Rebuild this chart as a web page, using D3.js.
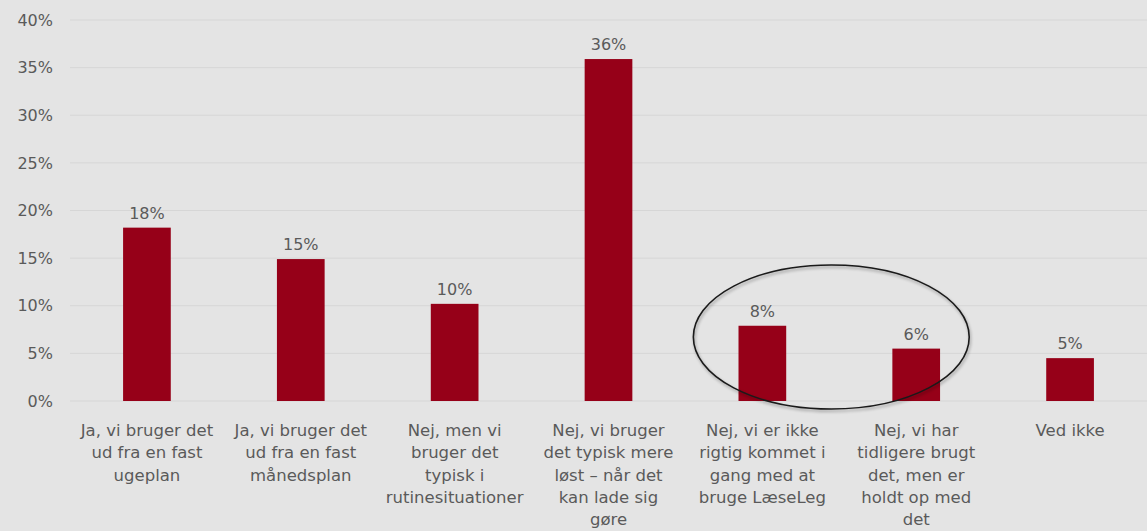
<!DOCTYPE html>
<html>
<head>
<meta charset="utf-8">
<script src="https://cdn.jsdelivr.net/npm/d3@7"></script>
<style>
  html, body { margin: 0; padding: 0; background: #e4e4e4; }
  svg { display: block; }
</style>
</head>
<body>
<svg id="chart" width="1147" height="531"></svg>
<script>
// Survey answers (each line of a category label is one entry)
const categories = [
  ["Ja, vi bruger det", "ud fra en fast", "ugeplan"],
  ["Ja, vi bruger det", "ud fra en fast", "månedsplan"],
  ["Nej, men vi", "bruger det", "typisk i", "rutinesituationer"],
  ["Nej, vi bruger", "det typisk mere", "løst – når det", "kan lade sig", "gøre"],
  ["Nej, vi er ikke", "rigtig kommet i", "gang med at", "bruge LæseLeg"],
  ["Nej, vi har", "tidligere brugt", "det, men er", "holdt op med", "det"],
  ["Ved ikke"]
];
const values = [0.182, 0.149, 0.102, 0.359, 0.079, 0.055, 0.045];
const yTicks = [0, 0.05, 0.10, 0.15, 0.20, 0.25, 0.30, 0.35, 0.40];
// Categories grouped by the highlight ellipse
const highlighted = [4, 5];

const W = 1147, H = 531;
const margin = { top: 20, right: 0, bottom: 130, left: 70 };
const svg = d3.select("#chart");
const font = "'DejaVu Sans', sans-serif";
const textColor = "#5a5a5a";
// whole-percent label, rounding halves up
const pct = v => Math.round(v * 100 + 1e-9) + "%";

const x = d3.scaleBand()
  .domain(d3.range(categories.length))
  .range([margin.left, W - margin.right])
  .paddingInner(0.69)
  .paddingOuter(0.345);

const y = d3.scaleLinear()
  .domain([0, 0.40])
  .range([401, margin.top]);

// gridlines
svg.append("g")
  .selectAll("line")
  .data(yTicks)
  .join("line")
  .attr("x1", margin.left)
  .attr("x2", W)
  .attr("y1", d => y(d))
  .attr("y2", d => y(d))
  .attr("stroke", "#d6d6d6")
  .attr("stroke-width", 1);

// y axis labels
const yAxis = d3.axisLeft(y).tickValues(yTicks).tickFormat(d3.format(".0%")).tickSize(0).tickPadding(17);
const yg = svg.append("g").attr("transform", `translate(${margin.left},0)`).call(yAxis);
yg.select(".domain").remove();
yg.selectAll("text")
  .attr("font-family", font)
  .attr("font-size", 16)
  .attr("fill", textColor);

// bars
svg.append("g")
  .selectAll("rect")
  .data(values)
  .join("rect")
  .attr("x", (d, i) => x(i))
  .attr("y", d => y(d))
  .attr("width", x.bandwidth())
  .attr("height", d => y(0) - y(d))
  .attr("fill", "#960018");

// value labels
svg.append("g")
  .selectAll("text")
  .data(values)
  .join("text")
  .attr("x", (d, i) => x(i) + x.bandwidth() / 2)
  .attr("y", d => y(d) - 9)
  .attr("text-anchor", "middle")
  .attr("font-family", font)
  .attr("font-size", 16)
  .attr("fill", textColor)
  .text(d => pct(d));

// category labels
const cat = svg.append("g")
  .selectAll("text")
  .data(categories)
  .join("text")
  .attr("text-anchor", "middle")
  .attr("font-family", font)
  .attr("font-size", 16.5)
  .attr("fill", textColor)
  .attr("transform", (d, i) => `translate(${x(i) + x.bandwidth() / 2},436)`);
cat.selectAll("tspan")
  .data(d => d)
  .join("tspan")
  .attr("x", 0)
  .attr("y", (d, j) => j * 22.3)
  .text(d => d);

// highlight ellipse around the two groups
const cx0 = x(highlighted[0]) + x.bandwidth() / 2;
const cx1 = x(highlighted[1]) + x.bandwidth() / 2;
svg.append("ellipse")
  .attr("cx", (cx0 + cx1) / 2 - 8)
  .attr("cy", 337)
  .attr("rx", (cx1 - cx0) / 2 + 61)
  .attr("ry", 72)
  .attr("fill", "none")
  .attr("stroke", "#1a1a1a")
  .attr("stroke-width", 1.6)
  .style("filter", "drop-shadow(1px 2px 1.5px rgba(0,0,0,0.35))");
</script>
</body>
</html>
